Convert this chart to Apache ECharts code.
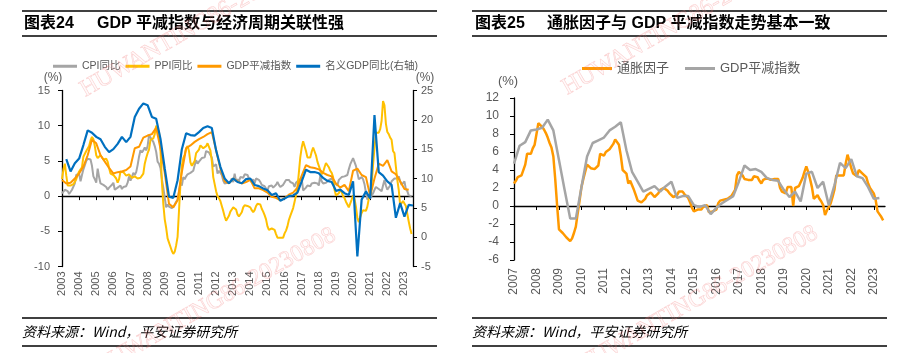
<!DOCTYPE html>
<html>
<head>
<meta charset="utf-8">
<script src="https://cdn.jsdelivr.net/npm/echarts@6/dist/echarts.min.js"></script>
<style>
html, body { margin: 0; padding: 0; background: #fff; }
#main { width: 916px; height: 353px; }
</style>
</head>
<body>
<div id="main"></div>
<script>
// 图表24：月度 CPI / PPI 同比，2003-01 起
var cpiYoy = [
    0.4, 0.2, 0.9, 1.0, 0.7, 0.3, 0.5, 0.9, 1.1, 1.8, 3.0, 3.2,
    3.2, 2.1, 3.0, 3.8, 4.4, 5.0, 5.3, 5.3, 5.2, 4.3, 2.8, 2.4,
    1.9, 3.9, 2.7, 1.8, 1.8, 1.6, 1.8, 1.3, 0.9, 1.2, 1.3, 1.6,
    1.9, 0.9, 0.8, 1.2, 1.4, 1.5, 1.0, 1.3, 1.5, 1.4, 1.9, 2.8,
    2.2, 2.7, 3.3, 3.0, 3.4, 4.4, 5.6, 6.5, 6.2, 6.5, 6.9, 6.5,
    7.1, 8.7, 8.3, 8.5, 7.7, 7.1, 6.3, 4.9, 4.6, 4.0, 2.4, 1.2,
    1.0, -1.6, -1.2, -1.5, -1.4, -1.7, -1.8, -1.2, -0.8, -0.5, 0.6, 1.9,
    1.5, 2.7, 2.4, 2.8, 3.1, 2.9, 3.3, 3.5, 3.6, 4.4, 5.1, 4.6,
    4.9, 4.9, 5.4, 5.3, 5.5, 6.4, 6.5, 6.2, 6.1, 5.5, 4.2, 4.1,
    4.5, 3.2, 3.6, 3.4, 3.0, 2.2, 1.8, 2.0, 1.9, 1.7, 2.0, 2.5,
    2.0, 3.2, 2.1, 2.4, 2.1, 2.7, 2.7, 2.6, 3.1, 3.2, 3.0, 2.5,
    2.5, 2.0, 2.4, 1.8, 2.5, 2.3, 2.3, 2.0, 1.6, 1.6, 1.4, 1.5,
    0.8, 1.4, 1.4, 1.5, 1.2, 1.4, 1.6, 2.0, 1.6, 1.3, 1.5, 1.6,
    1.8, 2.3, 2.3, 2.3, 2.0, 1.9, 1.8, 1.3, 1.9, 2.1, 2.3, 2.1,
    2.5, 0.8, 0.9, 1.2, 1.5, 1.5, 1.4, 1.8, 1.6, 1.9, 1.7, 1.8,
    1.5, 2.9, 2.1, 1.8, 1.8, 1.9, 2.1, 2.3, 2.5, 2.5, 2.2, 1.9,
    1.7, 1.5, 2.3, 2.5, 2.7, 2.7, 2.8, 2.8, 3.0, 3.8, 4.5, 4.5,
    5.4, 5.2, 4.3, 3.3, 2.4, 2.5, 2.7, 2.4, 1.7, 0.5, -0.5, 0.2,
    -0.3, -0.2, 0.4, 0.9, 1.3, 1.1, 1.0, 0.8, 0.7, 1.5, 2.3, 1.5,
    0.9, 0.9, 1.5, 2.1, 2.1, 2.5, 2.7, 2.5, 2.8, 2.1, 1.6, 1.8,
    2.1, 1.0, 0.7, 0.1, 0.2, 0.0
];
var ppiYoy = [
    2.4, 3.8, 4.6, 2.9, 1.5, 1.3, 1.5, 1.6, 1.7, 1.8, 2.4, 3.0,
    3.5, 3.6, 4.1, 5.6, 5.4, 6.4, 6.4, 7.1, 7.9, 8.4, 8.1, 7.1,
    5.8, 5.4, 5.6, 5.8, 5.9, 5.2, 5.2, 5.3, 4.9, 4.0, 3.2, 3.2,
    3.0, 3.0, 2.5, 1.9, 2.4, 3.5, 3.6, 3.4, 3.5, 2.9, 2.8, 3.1,
    3.3, 2.6, 2.7, 2.8, 2.8, 2.5, 2.4, 2.6, 2.7, 3.2, 4.6, 5.4,
    6.1, 6.6, 8.0, 8.1, 8.2, 8.8, 10.0, 10.1, 9.1, 6.6, 2.0, -1.1,
    -3.3, -4.5, -6.0, -6.6, -7.2, -7.8, -8.2, -7.9, -7.0, -5.8, -2.1, 1.7,
    4.3, 5.4, 5.9, 6.8, 7.1, 6.4, 4.8, 4.3, 4.3, 5.0, 6.1, 5.9,
    6.6, 7.2, 7.3, 6.8, 6.8, 7.1, 7.5, 7.3, 6.5, 5.0, 2.7, 1.7,
    0.7, 0.0, -0.3, -0.7, -1.4, -2.1, -2.9, -3.5, -3.6, -2.8, -2.2, -1.9,
    -1.6, -1.6, -1.9, -2.6, -2.9, -2.7, -2.3, -1.6, -1.3, -1.5, -1.4, -1.4,
    -1.6, -2.0, -2.3, -2.0, -1.4, -1.1, -0.9, -1.2, -1.8, -2.2, -2.7, -3.3,
    -4.3, -4.8, -4.6, -4.6, -4.6, -4.8, -5.4, -5.9, -5.9, -5.9, -5.9, -5.9,
    -5.3, -4.9, -4.3, -3.4, -2.8, -2.6, -1.7, -0.8, 0.1, 1.2, 3.3, 5.5,
    6.9, 7.8, 7.6, 6.4, 5.5, 5.5, 5.5, 6.3, 6.9, 6.9, 5.8, 4.9,
    4.3, 3.7, 3.1, 3.4, 4.1, 4.7, 4.6, 4.1, 3.6, 3.3, 2.7, 0.9,
    0.1, 0.1, 0.4, 0.9, 0.6, 0.0, -0.3, -0.8, -1.2, -1.6, -1.4, -0.5,
    0.1, -0.4, -1.5, -3.1, -3.7, -3.0, -2.4, -2.0, -2.1, -2.1, -1.5, -0.4,
    0.3, 1.7, 4.4, 6.8, 9.0, 8.8, 9.0, 9.5, 10.7, 13.5, 12.9, 10.3,
    9.1, 8.8, 8.3, 8.0, 6.4, 6.1, 4.2, 2.3, 0.9, -1.3, -1.3, -0.7,
    -0.8, -1.4, -2.5, -3.6, -4.6, -5.4
];
// 季度 GDP平减指数，第一个点在 2003 起点，之后每季度一个
var deflatorLeft = [
    2.3,
    1.8, 1.9, 2.5, 3.2,
    4.2, 5.8, 8.0, 7.5,
    5.8, 4.9, 4.0, 3.2,
    3.4, 3.5, 3.7, 4.2,
    6.8, 7.0, 8.3, 8.6,
    8.8, 9.7, 6.8, 3.3,
    -1.1, -1.6, -0.6, 3.4,
    6.8, 7.2, 7.7, 8.1,
    8.4, 8.8, 9.1, 6.5,
    3.9, 2.1, 1.8, 2.5,
    2.1, 1.8, 2.0, 2.3,
    1.1, 1.1, 0.85, 0.5,
    -0.1, -0.25, -0.6, -0.3,
    0.2, 0.5, 1.2, 2.9,
    4.4, 4.1, 4.0, 3.8,
    3.3, 3.0, 2.8, 1.8,
    1.2, 1.6, 0.7, 3.6,
    3.9, 3.0, 2.7, 0.0,
    2.5, 4.6, 4.3, 5.1,
    3.5, 3.1, 2.1, 1.0,
    0.9
];
// 名义GDP同比（右轴），2003Q1 起
var nominalGdp = [
    13.3, 11.2, 12.6, 13.4,
    15.7, 18.2, 17.8, 17.1,
    16.7, 15.4, 14.5, 15.0,
    15.9, 17.1, 16.2, 17.1,
    20.5, 21.9, 22.8, 22.5,
    20.5, 20.2, 16.8, 11.7,
    6.9, 6.7, 9.7, 15.0,
    17.7, 17.4, 17.3, 17.9,
    18.6, 18.9, 18.6, 14.8,
    12.0, 10.0, 9.2, 10.0,
    9.4, 9.2, 9.9, 10.0,
    8.9, 8.7, 8.3, 8.0,
    7.2, 7.5, 6.2, 6.6,
    7.0, 7.1, 7.6, 9.5,
    11.5, 11.1, 11.1, 10.9,
    10.1, 9.6, 9.4, 7.9,
    8.1, 7.5, 7.2, 9.5,
    -3.3, 6.4, 7.8, 6.6,
    20.8, 11.1, 10.5, 9.5,
    8.9, 3.3, 5.8, 3.5,
    5.5, 5.4
];
// 图表25：通胀因子，月度 2007-01 起
var inflationFactor = [
    2.5, 2.8, 3.2, 3.3, 3.4, 3.6, 4.6, 5.8, 6.0, 5.8, 6.4, 6.8,
    7.0, 9.2, 9.0, 8.8, 8.5, 8.1, 7.6, 7.0, 6.5, 5.5, 3.0, 0.1,
    -2.6, -2.8, -3.0, -3.2, -3.5, -3.7, -3.9, -3.6, -3.0, -2.3, -0.8, 0.6,
    2.1, 3.0, 3.8, 4.6, 4.4, 4.2, 4.1, 4.1, 4.2, 4.5, 5.8, 5.6,
    5.6, 6.0, 6.1, 6.3, 6.4, 6.9, 7.4, 7.2, 6.8, 5.6, 4.0, 3.8,
    3.6, 2.5, 2.8, 2.6, 1.8, 1.2, 0.6, 0.5, 0.4, 0.5, 0.8, 1.2,
    1.3, 1.5, 1.6, 1.0, 1.0, 1.4, 1.8, 1.9, 2.0, 2.1, 1.7, 1.4,
    1.2, 1.0, 0.85, 1.2, 1.6, 1.7, 1.6, 1.3, 1.1, 0.9, 0.4, -0.2,
    -0.6, -0.5, -0.4, -0.3, -0.4, -0.1, 0.0, 0.1, -0.7, -0.6, -0.6, -0.5,
    -0.4, 0.3, 0.6, 0.8, 0.7, 0.8, 0.8, 0.9, 1.1, 1.2, 1.8, 3.4,
    3.8, 4.0, 3.4, 3.0, 2.9, 2.9, 2.9, 2.9, 3.3, 3.4, 3.2, 2.8,
    2.5, 2.9, 3.0, 3.1, 3.0, 2.9, 3.0, 3.0, 3.0, 3.0, 2.0, 1.6,
    1.5, 1.4, 2.1, 2.3, 2.1, 0.0, 2.0, 2.0, 2.2, 2.4, 3.1, 3.8,
    4.4, 3.8, 3.0, 2.1, 0.8, 1.0, 1.2, 0.8, 0.5, 0.1, -1.0, -0.5,
    -0.3, 0.3, 1.0, 1.8, 3.4, 3.4, 3.4, 3.3, 3.4, 4.7, 5.7, 5.0,
    4.2, 3.6, 3.4, 3.3, 4.0, 3.8, 3.6, 3.4, 3.2, 2.5, 2.0, 1.7,
    1.4, 0.7, -0.6, -0.9, -1.2, -1.6
];
// 图表25：GDP平减指数，季度，第一个点在 2007 起点
var deflatorRight = [
    4.7,
    6.7, 7.1, 8.4, 8.5,
    8.7, 9.6, 8.4, 5.1,
    1.8, -1.4, -1.4, 2.1,
    5.5, 7.0, 7.3, 7.6,
    8.4, 8.8, 9.3, 6.2,
    3.8, 2.7, 1.6, 1.9,
    2.2, 1.6, 2.2, 2.7,
    0.9, 1.1, 1.1, 0.1,
    -0.1, 0.1, -0.9, -0.2,
    0.3, 0.7, 1.1, 2.7,
    4.5, 4.0, 4.1, 3.8,
    3.1, 2.9, 2.8, 1.8,
    1.0, 1.6, 0.5, 3.6,
    3.8, 2.0, 2.7, 0.1,
    2.3, 4.8, 4.2, 5.2,
    3.3, 3.1, 2.1, 0.8,
    0.9
];
var leftYears = [2003, 2004, 2005, 2006, 2007, 2008, 2009, 2010, 2011, 2012, 2013,
    2014, 2015, 2016, 2017, 2018, 2019, 2020, 2021, 2022, 2023];
var rightYears = [2007, 2008, 2009, 2010, 2011, 2012, 2013, 2014, 2015,
    2016, 2017, 2018, 2019, 2020, 2021, 2022, 2023];

function monthly(startYear, arr) {
    return arr.map(function (v, i) { return [startYear + i / 12, v]; });
}
function quarterly(start, arr) {
    return arr.map(function (v, i) { return [start + i / 4, v]; });
}

var FONT = '"Liberation Sans", "Noto Sans CJK SC", sans-serif';
var CJK = '"Noto Sans CJK SC", sans-serif';
var labelColor = '#595959';

// 底部年份标签轴（不画线）
function yearLabelAxis(grid, min, years, size, margin) {
    return {
        gridIndex: grid, type: 'value', min: min, max: 2023.5, interval: 1,
        position: 'bottom',
        axisLine: { show: false, onZero: false },
        axisTick: { show: false },
        splitLine: { show: false },
        axisLabel: {
            rotate: 90, margin: margin, color: labelColor, fontSize: size, fontFamily: FONT,
            customValues: years,
            formatter: function (v) { return Math.round(v) === v ? String(v) : ''; }
        }
    };
}
// 0 轴上的横线和刻度
function zeroAxis(grid, min, years, yIdx) {
    return {
        gridIndex: grid, type: 'value', min: min, max: 2023.5, interval: 1,
        position: 'top',
        axisLine: { show: true, onZero: true, onZeroAxisIndex: yIdx, lineStyle: { color: '#000', width: 1.3 } },
        axisTick: { show: true, inside: true, length: 4, customValues: years, lineStyle: { color: '#000', width: 1 } },
        axisLabel: { show: false },
        splitLine: { show: false }
    };
}
function valueAxis(grid, pos, min, max, step, size, margin) {
    return {
        gridIndex: grid, type: 'value', position: pos, min: min, max: max, interval: step,
        axisLine: { show: true, onZero: false, lineStyle: { color: '#000', width: 1.3 } },
        axisTick: { show: true, length: 4, lineStyle: { color: '#000', width: 1 } },
        axisLabel: { margin: margin, color: labelColor, fontSize: size, fontFamily: FONT },
        splitLine: { show: false }
    };
}
function lineSeries(name, xi, yi, data, color, width) {
    return {
        name: name, type: 'line', xAxisIndex: xi, yAxisIndex: yi, data: data,
        showSymbol: false, symbol: 'none',
        lineStyle: { color: color, width: width },
        itemStyle: { color: color }
    };
}
function mark(x, y, txt, align) {
    return {
        type: 'text', x: x, y: y, rotation: 0.52, silent: true, z: 50,
        style: {
            text: txt, font: '24px "Liberation Serif", serif',
            fill: 'rgba(255,190,190,0.08)', stroke: 'rgba(240,100,100,0.3)', lineWidth: 0.6,
            align: align, verticalAlign: 'bottom'
        }
    };
}
function hline(x1, x2, y, w) {
    return { type: 'line', silent: true, shape: { x1: x1, y1: y, x2: x2, y2: y }, style: { stroke: '#000', lineWidth: w } };
}
function txt(x, y, s, font, color, align) {
    return { type: 'text', x: x, y: y, silent: true,
        style: { text: s, font: font, fill: color, align: align || 'left', verticalAlign: 'middle' } };
}

var WM = 'HUWANTING86-20230808';
var footer = '资料来源：Wind，平安证券研究所';

var option = {
    animation: false,
    grid: [
        { left: 62, top: 90.5, width: 351, height: 176 },
        { left: 514, top: 98, width: 371, height: 162 }
    ],
    xAxis: [
        yearLabelAxis(0, 2003, leftYears, 11, 5),
        zeroAxis(0, 2003, leftYears, 0),
        yearLabelAxis(1, 2007, rightYears, 12, 8),
        zeroAxis(1, 2007, rightYears, 2)
    ],
    yAxis: [
        valueAxis(0, 'left', -10, 15, 5, 11, 12),
        valueAxis(0, 'right', -5, 25, 5, 11, 8),
        valueAxis(1, 'left', -6, 12, 2, 12, 15)
    ],
    legend: [
        {
            left: 53, top: 61, padding: 0, itemWidth: 24, itemHeight: 3, itemGap: 5, icon: 'rect',
            selectedMode: false,
            textStyle: { color: labelColor, fontSize: 10.5, fontFamily: FONT },
            data: [
                { name: 'CPI同比', itemStyle: { color: '#A5A5A5' } },
                { name: 'PPI同比', itemStyle: { color: '#FFC000' } },
                { name: 'GDP平减指数', itemStyle: { color: '#FF9900' } },
                { name: '名义GDP同比(右轴)', itemStyle: { color: '#0070C0' } }
            ]
        },
        {
            left: 582, top: 62, padding: 0, itemWidth: 30, itemHeight: 3, itemGap: 16, icon: 'rect',
            selectedMode: false,
            textStyle: { color: labelColor, fontSize: 13, fontFamily: FONT },
            data: [
                { name: '通胀因子', itemStyle: { color: '#FF9900' } },
                { name: 'GDP平减指数', itemStyle: { color: '#A5A5A5' } }
            ]
        }
    ],
    series: [
        lineSeries('CPI同比', 0, 0, monthly(2003, cpiYoy), '#A5A5A5', 2),
        lineSeries('PPI同比', 0, 0, monthly(2003, ppiYoy), '#FFC000', 2),
        lineSeries('GDP平减指数', 0, 0, quarterly(2003, deflatorLeft), '#FF9900', 2),
        lineSeries('名义GDP同比(右轴)', 0, 1, quarterly(2003.25, nominalGdp), '#0070C0', 2.2),
        lineSeries('通胀因子', 2, 2, monthly(2007, inflationFactor), '#FF9900', 2.5),
        lineSeries('GDP平减指数', 2, 2, quarterly(2007, deflatorRight), '#A5A5A5', 2.5)
    ],
    graphic: [
        hline(22, 437, 11, 1.5), hline(22, 437, 36, 1.5),
        hline(472, 887, 11, 1.5), hline(472, 887, 36, 1.5),
        txt(24, 24, '图表24', 'bold 16px ' + FONT, '#000'),
        txt(97, 24, 'GDP 平减指数与经济周期关联性强', 'bold 16px ' + FONT, '#000'),
        txt(475, 24, '图表25', 'bold 16px ' + FONT, '#000'),
        txt(547, 24, '通胀因子与 GDP 平减指数走势基本一致', 'bold 16px ' + FONT, '#000'),
        txt(53, 78, '(%)', '12px ' + FONT, labelColor, 'center'),
        txt(425, 78, '(%)', '12px ' + FONT, labelColor, 'center'),
        txt(508, 81, '(%)', '13px ' + FONT, labelColor, 'center'),
        hline(22, 437, 318, 1.3), hline(22, 437, 346, 1.3),
        hline(472, 887, 318, 1.3), hline(472, 887, 346, 1.3),
        txt(22, 332, footer, 'italic 14px ' + CJK, '#000'),
        txt(472, 332, footer, 'italic 14px ' + CJK, '#000'),
        mark(88, 102, WM, 'left'),
        mark(340, 244, WM, 'right'),
        mark(570, 100, WM, 'left'),
        mark(822, 242, WM, 'right')
    ]
};

var chart = echarts.init(document.getElementById('main'));
chart.setOption(option);
</script>
</body>
</html>
